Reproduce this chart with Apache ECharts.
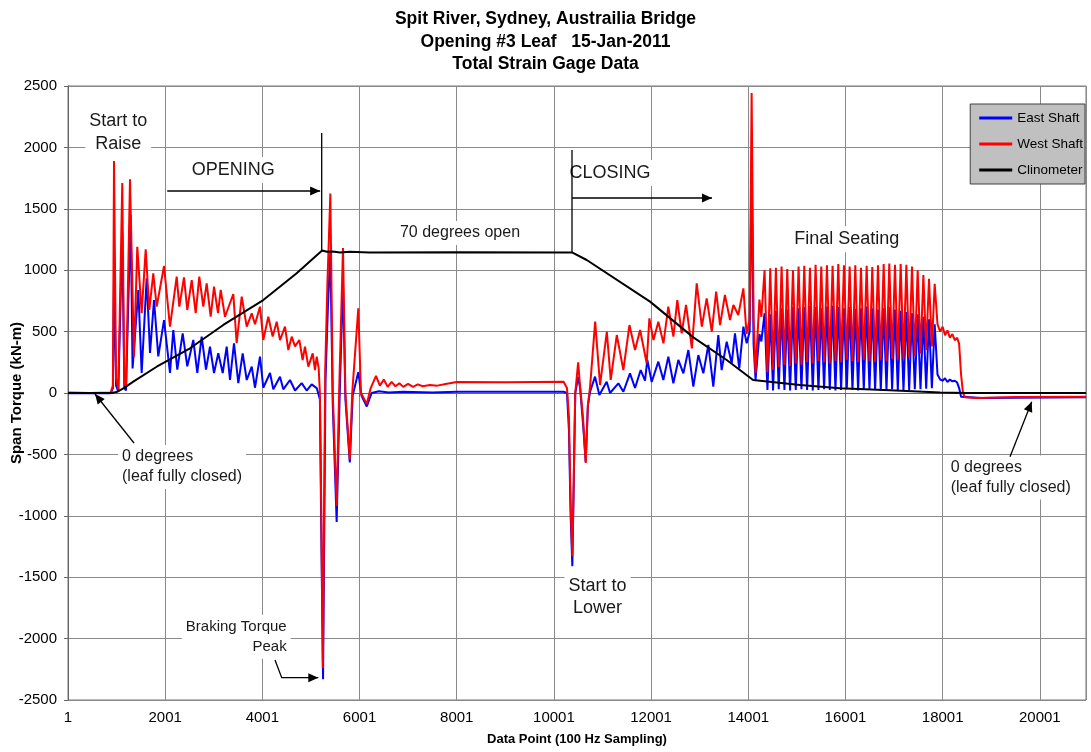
<!DOCTYPE html>
<html><head><meta charset="utf-8">
<script src="https://cdn.jsdelivr.net/npm/echarts@6/dist/echarts.min.js"></script>
<style>html,body{margin:0;padding:0;background:#fff}#c{width:1091px;height:752px}</style>
</head><body><div id="c"></div><script>
// ---------------- data ----------------
const titleLines = ['Spit River, Sydney, Austrailia Bridge', 'Opening #3 Leaf   15-Jan-2011', 'Total Strain Gage Data'];
const xTickLabels = ['1','2001','4001','6001','8001','10001','12001','14001','16001','18001','20001'];
const xAxisName = 'Data Point (100 Hz Sampling)';
const yAxisName = 'Span Torque (kN-m)';
const seriesNames = ['East Shaft', 'West Shaft', 'Clinometer'];

const eastShaft = [
[1,-3],[450,0],[880,-3],[925,40],
[950,1000],[990,60],[1036,10],[1118,1300],[1160,40],[1195,20],[1290,1450],[1330,200],
[1448,839],[1517,163],[1620,934],[1689,326],[1771,757],[1859,298],[1977,594],[2100,163],[2168,513],[2250,190],[2361,486],[2456,217],[2580,432],[2662,163],[2752,459],[2841,190],[2923,377],[3006,163],[3094,323],[3185,163],[3267,377],[3335,106],[3417,405],[3506,80],[3596,323],[3679,106],[3782,214],[3849,43],[3952,296],[4020,43],[4158,163],[4226,30],[4364,133],[4432,30],[4570,106],[4673,20],[4810,80],[4913,20],[5016,70],[5119,40],[5160,30],
[5185,-50],[5215,-1200],[5250,-2330],[5275,-1100],[5300,100],[5350,700],[5400,1150],[5450,-100],[5530,-1050],[5590,-50],[5660,920],[5710,-50],[5800,-565],[5860,-20],[5975,170],[6040,-20],[6150,-110],[6250,0],[6400,15],[6600,5],[6900,10],[7500,5],[8000,10],[10200,10],
[10270,0],[10310,-300],[10345,-1000],[10380,-1410],[10410,-700],[10440,0],[10500,130],[10540,40],[10600,-250],[10655,-560],[10700,-100],[10745,10],
[10847,133],[10936,-16],[11087,92],[11156,0],[11327,79],[11430,10],[11567,160],[11670,41],[11787,187],[11876,100],[11923,269],[12013,90],[12150,255],[12253,106],[12356,296],[12459,79],[12562,269],[12665,160],[12768,350],[12870,52],[12973,309],[13076,160],[13179,391],[13281,52],[13384,472],[13453,187],[13557,418],[13660,242],[13727,486],[13816,200],[13900,540],[13968,405],
[14030,500],[14070,1850],[14110,400],[14150,106],[14230,480],[14270,420],
[14336,650],[14395,25],[14453,640],[14511,20],[14569,670],[14628,30],[14686,690],[14745,25],[14803,680],[14861,20],[14920,700],[14978,25],[15036,690],[15095,30],[15153,700],[15211,25],[15270,710],[15328,20],[15386,700],[15445,25],[15503,690],[15561,30],[15620,705],[15678,25],[15736,710],[15795,20],[15853,700],[15911,25],[15970,690],[16028,30],[16087,700],[16145,25],[16203,685],[16261,20],[16320,690],[16378,25],[16437,705],[16495,30],[16553,690],[16611,25],[16670,680],[16728,20],[16787,690],[16845,25],[16903,700],[16961,30],[17020,680],[17078,25],[17137,670],[17195,20],[17254,660],[17312,25],[17370,650],[17428,30],[17487,640],[17545,30],[17604,620],[17662,35],[17720,600],[17779,40],[17837,560],
[17895,150],[17950,110],[18000,100],[18050,120],[18100,90],[18150,110],[18200,95],[18250,100],[18300,85],[18340,40],[18380,-30],[18420,-45],[18800,-40],[19500,-38],[20950,-35]
];

const westShaft = [
[1,5],[450,0],[880,5],[925,60],
[948,1890],[990,120],[1036,30],[1118,1710],[1160,80],[1195,50],[1277,1740],[1359,296],
[1427,1190],[1517,650],[1600,1170],[1674,676],[1756,975],[1826,703],[1977,1034],[2100,540],[2238,947],[2292,703],[2388,942],[2456,676],[2547,920],[2629,650],[2703,947],[2785,703],[2855,893],[2937,621],[3006,866],[3088,650],[3144,839],[3232,621],[3403,806],[3472,405],[3576,784],[3679,540],[3782,649],[3849,560],[3952,703],[4020,432],[4123,621],[4213,460],[4296,581],[4364,430],[4467,540],[4535,350],[4605,459],[4673,380],[4761,432],[4830,269],[4878,378],[4947,215],[5037,323],[5084,187],[5119,296],[5160,200],
[5185,0],[5215,-1000],[5245,-2240],[5270,-1000],[5295,200],[5340,900],[5400,1625],[5450,0],[5530,-920],[5580,0],[5660,1180],[5710,0],[5800,-540],[5850,0],[5975,690],[6030,0],[6150,-90],[6230,40],[6340,140],[6420,60],[6500,110],[6580,50],[6660,90],[6740,55],[6820,80],[6900,50],[7000,75],[7100,50],[7200,70],[7300,55],[7450,65],[7600,60],[7800,75],[8000,90],[9000,88],[10200,92],
[10270,40],[10310,-200],[10345,-900],[10380,-1330],[10410,-700],[10440,0],[10500,250],[10530,100],[10600,-200],[10655,-570],[10700,-100],[10745,50],
[10850,581],[10950,65],[11090,499],[11170,106],[11295,472],[11430,187],[11555,553],[11670,350],[11775,513],[11910,242],[11965,608],[12050,432],[12150,581],[12255,405],[12355,703],[12460,459],[12540,757],[12630,486],[12720,717],[12840,364],[12940,893],[13045,540],[13145,771],[13250,499],[13340,825],[13420,553],[13520,798],[13625,594],[13695,717],[13795,635],[13900,852],[13965,480],
[14030,600],[14070,2443],[14110,600],[14150,163],[14230,760],[14270,620],
[14336,1000],[14395,170],[14453,1015],[14511,190],[14569,1020],[14628,210],[14686,1030],[14745,230],[14803,1010],[14861,220],[14920,1000],[14978,240],[15036,1030],[15095,230],[15153,1035],[15211,250],[15270,1020],[15328,240],[15386,1045],[15445,260],[15503,1030],[15561,250],[15620,1040],[15678,240],[15736,1035],[15795,260],[15853,1050],[15911,250],[15970,1040],[16028,270],[16087,1030],[16145,260],[16203,1040],[16261,250],[16320,1020],[16378,270],[16437,1035],[16495,260],[16553,1025],[16611,250],[16670,1040],[16728,270],[16787,1050],[16845,260],[16903,1055],[16961,280],[17020,1045],[17078,270],[17137,1050],[17195,280],[17254,1045],[17312,290],[17370,1030],[17428,300],[17487,1000],[17545,320],[17604,960],[17662,350],[17720,930],[17779,380],[17837,890],
[17895,560],[17950,500],[18000,540],[18050,470],[18100,510],[18150,450],[18200,480],[18250,430],[18300,450],[18340,400],[18380,150],[18420,0],[18460,-35],[18700,-40],[19500,-32],[20950,-30]
];

const clinometer = [
[1,0],[900,0],[1000,8],[1150,40],[1345,92],[1826,214],[2512,364],[3197,554],[4020,757],[4707,975],[5230,1160],[5330,1150],[5450,1152],[5600,1145],[5800,1150],[6200,1145],[8000,1147],[10373,1145],
[10676,1083],[11979,744],[12870,453],[13557,269],[14100,106],[15066,65],[15889,38],[16918,22],[17947,5],[18500,0],[20950,0]
];

// annotations anchored in data coordinates
const annotations = [
  {text:'Start to\nRaise', at:[1036,2125], align:'center', size:18, lh:23},
  {text:'OPENING', at:[3403,1816], align:'center', size:18, lh:22},
  {text:'70 degrees open', at:[8068,1303], align:'center', size:16, lh:20},
  {text:'CLOSING', at:[11155,1791], align:'center', size:18, lh:22},
  {text:'Final Seating', at:[16027,1252], align:'center', size:18, lh:22},
  {text:'0 degrees\n(leaf fully closed)', at:[1030,-603], align:'left', size:16, lh:20},
  {text:'0 degrees\n(leaf fully closed)', at:[18085,-688], align:'left', size:16, lh:20},
  {text:'Braking Torque\nPeak', at:[4584,-1984], align:'right', size:15, lh:20},
  {text:'Start to\nLower', at:[10898,-1665], align:'center', size:18, lh:22}
];
const arrows = [
  {pts:[[2043,1645],[5190,1645]], head:true},
  {pts:[[5222,2117],[5222,1148]], head:false},
  {pts:[[10373,1979],[10373,1148]], head:false},
  {pts:[[10373,1588],[13254,1588]], head:true},
  {pts:[[1359,-407],[557,-8]], head:true},
  {pts:[[19387,-519],[19834,-71]], head:true},
  {pts:[[4261,-2174],[4399,-2318],[5152,-2318]], head:true}
];

// ---------------- chart ----------------
const X_ORIGIN = 1;
const X_MAX = 20951;
const FONT = '"Liberation Sans", Arial, sans-serif';

const toAxis = arr => arr.map(p => [p[0] - X_ORIGIN, p[1]]);
const chart = echarts.init(document.getElementById('c'), null, {renderer:'canvas'});
const gridColor = '#8a8a8a';
const option = {
  animation: false,
  backgroundColor: '#fff',
  title: {
    text: titleLines.join('\n'), left: 'center', top: 3,
    textStyle: {fontFamily: FONT, fontWeight: 'bold', fontSize: 17.5, lineHeight: 22.5, color: '#000'}
  },
  legend: {
    orient: 'vertical', right: 6, top: 104,
    backgroundColor: '#c0c0c0', borderColor: '#404040', borderWidth: 1,
    padding: [7, 2, 7, 9], itemGap: 12, itemWidth: 33, itemHeight: 3, icon: 'rect',
    textStyle: {fontFamily: FONT, fontSize: 13.5, color: '#000'},
    data: seriesNames
  },
  grid: {left: 68, right: 5, top: 86, bottom: 52, show: true, borderColor: '#777', borderWidth: 1,
    containLabel: false, outerBoundsMode: 'none'},
  xAxis: {
    type: 'value', min: 0, max: X_MAX - X_ORIGIN, interval: 2000,
    name: xAxisName, nameLocation: 'middle', nameGap: 33, nameMoveOverlap: false,
    nameTextStyle: {fontFamily: FONT, fontWeight: 'bold', fontSize: 13, color: '#000'},
    axisLine: {show: true, lineStyle: {color: '#666'}},
    axisTick: {show: true, length: 4, lineStyle: {color: '#666'}},
    axisLabel: {color: '#000', fontFamily: FONT, fontSize: 15, margin: 10, showMaxLabel: false,
      formatter: v => { const i = Math.round(v / 2000); return (Math.abs(v - i*2000) < 1e-6 && xTickLabels[i]) ? xTickLabels[i] : ''; }},
    splitLine: {show: true, lineStyle: {color: gridColor, width: 1}}
  },
  yAxis: {
    type: 'value', min: -2500, max: 2500, interval: 500,
    name: yAxisName, nameLocation: 'middle', nameGap: 44, nameMoveOverlap: false,
    nameTextStyle: {fontFamily: FONT, fontWeight: 'bold', fontSize: 15, color: '#000'},
    axisLine: {show: true, lineStyle: {color: '#666'}},
    axisTick: {show: true, length: 4, lineStyle: {color: '#666'}},
    axisLabel: {color: '#000', fontFamily: FONT, fontSize: 15, margin: 11, formatter: v => String(v)},
    splitLine: {show: true, lineStyle: {color: gridColor, width: 1}}
  },
  series: [
    {name: seriesNames[0], type: 'line', data: toAxis(eastShaft), symbol: 'none', lineStyle: {color: '#0000ff', width: 2}, itemStyle: {color: '#0000ff'}, z: 2},
    {name: seriesNames[1], type: 'line', data: toAxis(westShaft), symbol: 'none', lineStyle: {color: '#ff0000', width: 2}, itemStyle: {color: '#ff0000'}, z: 3},
    {name: seriesNames[2], type: 'line', data: toAxis(clinometer), symbol: 'none', lineStyle: {color: '#000', width: 2}, itemStyle: {color: '#000'}, z: 4}
  ]
};
chart.setOption(option);

function px(p){ return chart.convertToPixel({xAxisIndex: 0, yAxisIndex: 0}, [p[0] - X_ORIGIN, p[1]]); }
const elements = [];
annotations.forEach(a => {
  const p = px(a.at);
  elements.push({
    type: 'text', x: p[0], y: p[1], z: 100,
    style: {text: a.text, fill: '#1a1a1a', font: a.size + 'px ' + FONT, fontSize: a.size, fontFamily: FONT,
      align: a.align, textAlign: a.align, verticalAlign: 'middle', textVerticalAlign: 'middle',
      lineHeight: a.lh, backgroundColor: '#fff', padding: [2, 4]}
  });
});
arrows.forEach(a => {
  const pts = a.pts.map(px);
  elements.push({type: 'polyline', z: 101, shape: {points: pts}, style: {stroke: '#000', lineWidth: 1.3, fill: null}});
  if (a.head) {
    const t = pts[pts.length - 1], s = pts[pts.length - 2];
    const dx = t[0] - s[0], dy = t[1] - s[1], L = Math.hypot(dx, dy);
    const ux = dx / L, uy = dy / L, len = 10, hw = 4.5;
    const bx = t[0] - ux * len, by = t[1] - uy * len;
    elements.push({type: 'polygon', z: 102, shape: {points: [t, [bx - uy * hw, by + ux * hw], [bx + uy * hw, by - ux * hw]]}, style: {fill: '#000'}});
  }
});
chart.setOption({graphic: {elements: elements}});
</script></body></html>
